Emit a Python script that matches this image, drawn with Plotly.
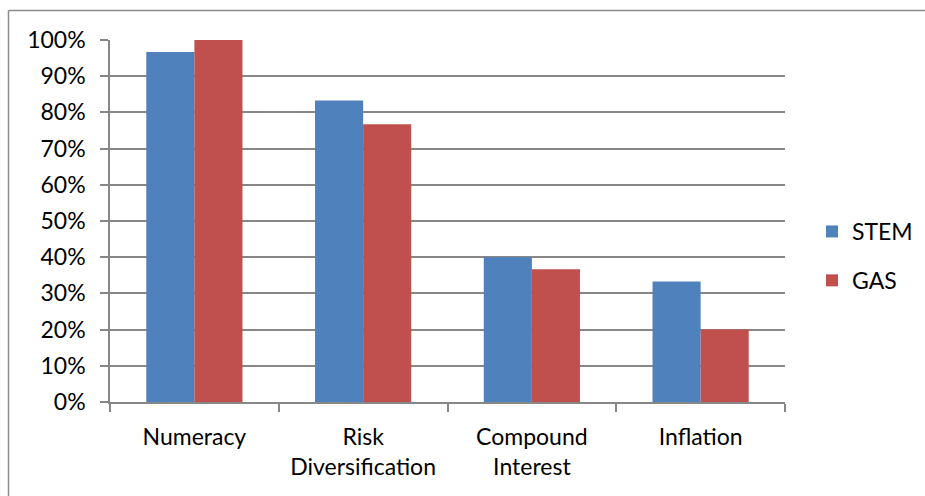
import plotly.graph_objects as go

categories = ["Numeracy", "Risk<br>Diversification", "Compound<br>Interest", "Inflation"]
stem = [0.967, 0.833, 0.40, 0.333]
gas = [1.00, 0.767, 0.367, 0.20]
y_ticks = [i / 10 for i in range(11)]
y_tick_labels = [f"{i * 10}%" for i in range(11)]

font_family = "Lato, Carlito, Calibri, sans-serif"
grid_color = "#878787"
frame_color = "#8c8c8c"

fig = go.Figure()
fig.add_trace(go.Bar(name="STEM", x=categories, y=stem, marker_color="#4F81BD",
                     marker_line_width=0, legendgroup="a"))
fig.add_trace(go.Bar(name="GAS", x=categories, y=gas, marker_color="#C0504D",
                     marker_line_width=0, legendgroup="b"))

W, H = 925, 496
L, R, T, B = 110, 140, 40, 94
pw = W - L - R
ph = H - T - B


def px_x(p):
    return (p - L) / pw


def px_y(p):
    return (H - B - p) / ph


fig.update_layout(
    width=W, height=H,
    margin=dict(l=L, r=R, t=T, b=B, pad=0, autoexpand=False),
    paper_bgcolor="white", plot_bgcolor="white",
    barmode="group", bargap=0.43, bargroupgap=0,
    font=dict(family=font_family, size=23, color="black"),
    showlegend=True,
    legend=dict(x=px_x(812), y=px_y(210), xanchor="left", yanchor="top",
                font=dict(size=23), tracegroupgap=16, traceorder="grouped",
                bgcolor="rgba(0,0,0,0)", itemwidth=30),
    xaxis=dict(showline=True, linecolor=grid_color, linewidth=1.5,
               ticks="outside", tickson="boundaries", ticklen=8, tickcolor=grid_color,
               tickwidth=1.5, showgrid=False, tickfont=dict(size=23),
               ticklabelstandoff=14),
    yaxis=dict(range=[0, 1], tickvals=y_ticks, ticktext=y_tick_labels,
               showline=True, linecolor=grid_color, linewidth=1.5,
               ticks="outside", ticklen=8, tickcolor=grid_color, tickwidth=1.5,
               showgrid=True, gridcolor=grid_color, gridwidth=1.5,
               zeroline=False, tickfont=dict(size=23), ticklabelstandoff=10),
    shapes=[
        # chart frame: top and left edges
        dict(type="line", xref="paper", yref="paper",
             x0=px_x(8.5), x1=px_x(W), y0=px_y(10.5), y1=px_y(10.5),
             line=dict(color=frame_color, width=1.5), layer="below"),
        dict(type="line", xref="paper", yref="paper",
             x0=px_x(8.5), x1=px_x(8.5), y0=px_y(10.5), y1=px_y(H),
             line=dict(color=frame_color, width=1.5), layer="below"),
    ],
)

fig.write_html("out.html")
